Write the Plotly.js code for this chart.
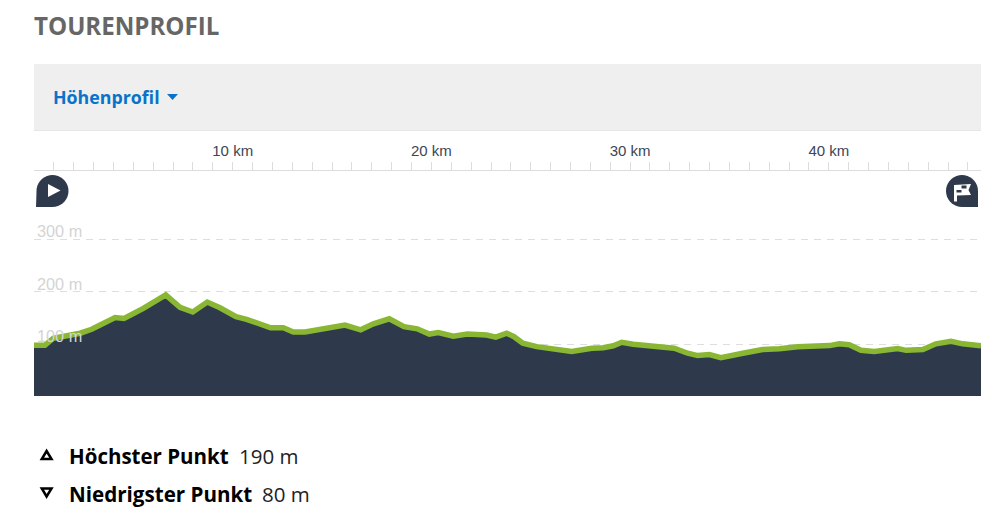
<!DOCTYPE html>
<html>
<head>
<meta charset="utf-8">
<script src="https://cdn.plot.ly/plotly-3.0.1.min.js"></script>
<style>html,body{margin:0;padding:0;background:#fff;overflow:hidden}#c{width:1006px;height:518px}</style>
</head>
<body>
<div id="c"></div>
<script>
const distanceKm = [0,0.55,0.97,1.65,2.32,2.90,3.49,4.08,4.53,5.50,6.63,7.35,7.99,8.72,9.36,9.83,10.17,10.70,11.29,11.91,12.55,13.05,13.64,14.39,14.90,15.65,16.44,17.08,17.88,18.62,19.29,19.89,20.35,21.10,21.81,22.78,23.24,23.79,24.16,24.60,25.30,26.31,27.06,28.07,28.65,29.15,29.58,30.16,31.81,32.22,32.90,33.40,33.99,34.57,35.67,36.67,37.51,38.43,40.03,40.53,41.03,41.62,42.29,43.47,43.89,44.73,45.39,46.15,46.74,47.66];
const elevationM = [97.7,97.7,111,115,120.6,128,138.5,150.5,148.6,168,193.7,170,161,180,169,160.6,152,147,138.5,131,131,123,123,127,131,136,127,138.5,148,133,129,119,122,115,119,117,113,120.6,114,101.5,95,90,86,92,93,96.6,103.4,99.6,94,92,82.5,78,80,74,82.5,89.5,91,95,97,100.4,98.5,88,86,91.4,88,89.5,100.4,105,100.4,96.6];
const kmTicks = [1,2,3,4,5,6,7,8,9,10,11,12,13,14,15,16,17,18,19,20,21,22,23,24,25,26,27,28,29,30,31,32,33,34,35,36,37,38,39,40,41,42,43,44,45,46,47];
const heightTicks = [100,200,300];
const heading = "TOURENPROFIL";
const dropdownLabel = "Höhenprofil";
const highLabel = "Höchster Punkt", highValue = "190 m";
const lowLabel = "Niedrigster Punkt", lowValue = "80 m";

const W = 1006, H = 518, L = 34, R = 25, T = 171, B = 122;
const px = v => (v - L) / (W - L - R);
const py = v => (H - B - v) / (H - T - B);
const shapePath = (d, fill, line) => ({type:'path', xref:'paper', yref:'paper', path:d, fillcolor:fill, line:line||{width:0}, layer:'above'});
const P = (x,y) => px(x) + ',' + py(y);
const poly = pts => 'M' + pts.map(p => P(p[0],p[1])).join(' L') + ' Z';
function circlePts(cx, cy, r, from, to){
  const pts = [];
  for(let a = from; a <= to; a += 10){ const t = a*Math.PI/180; pts.push([cx + r*Math.cos(t), cy + r*Math.sin(t)]); }
  return pts;
}
const startPin = poly([[36,207]].concat([[36.5,191]], circlePts(52.5,191,16,180,450), [[52.5,207]]));
const endPin = poly([[978,207],[962,207]].concat(circlePts(962,191,16,90,360), [[978,191]]));
const text = (t, x, y, size, color, bold, family) => ({
  text: bold ? '<b>' + t + '</b>' : t, xref:'paper', yref:'paper', x:px(x), y:py(y),
  xanchor:'left', yanchor:'middle', showarrow:false,
  font:{family: family || '"Open Sans", "Noto Sans", sans-serif', size, color}
});

const shapes = [
  {type:'rect', xref:'paper', yref:'paper', x0:px(34), x1:px(981), y0:py(64), y1:py(130), fillcolor:'#efefef', line:{width:0}, layer:'below'},
  {type:'line', xref:'paper', yref:'paper', x0:px(34), x1:px(981), y0:py(130.5), y1:py(130.5), line:{color:'#e6e6e6', width:1}, layer:'below'},
  shapePath(poly([[167,94],[178,94],[172.5,100]]), '#0a72c9'),
  shapePath(startPin, '#2e3a4c'),
  shapePath(poly([[48,184],[60.5,190.5],[48,197]]), '#ffffff'),
  shapePath(endPin, '#2e3a4c'),
  shapePath(poly([[954,185],[971,184],[968.5,190],[971,195],[957,195.5],[957,201.5],[954,201.5]]), '#ffffff'),
  shapePath(poly([[961.5,185.5],[966.5,185.5],[966.5,188.5],[961.5,188.5]]), '#2e3a4c'),
  shapePath(poly([[956.5,190],[961.5,190],[961.5,192.5],[956.5,192.5]]), '#2e3a4c'),
  shapePath(poly([[41.8,459],[51.5,459],[46.6,451]]), 'rgba(0,0,0,0)', {color:'#000', width:2.5}),
  shapePath(poly([[41.8,488.5],[51.5,488.5],[46.6,496.5]]), 'rgba(0,0,0,0)', {color:'#000', width:2.5})
];

const annotations = [
  text(dropdownLabel, 51, 97, 17.8, '#0a72c9', true),
  text(highLabel, 67, 456, 20.5, '#000', true),
  text(highValue, 237, 456, 20.5, '#222', false),
  text(lowLabel, 67, 494, 20.6, '#000', true),
  text(lowValue, 260, 494, 20.5, '#222', false)
].concat(heightTicks.map(v => ({
  text: v + ' m', xref:'x', yref:'y', x:0, y:v, xanchor:'left', yanchor:'bottom', xshift:1, yshift:-3,
  showarrow:false, font:{family:'"Liberation Sans", Arial, sans-serif', size:16.3, color:'#d4d4d4'}
})));

Plotly.newPlot('c', [{
  x: distanceKm, y: elevationM, type:'scatter', mode:'lines', fill:'tozeroy',
  fillcolor:'#2e3a4c', line:{color:'#8ab733', width:5.5, shape:'linear'}, hoverinfo:'skip'
}], {
  width:W, height:H, paper_bgcolor:'#fff', plot_bgcolor:'#fff', showlegend:false,
  margin:{l:L, r:R, t:T, b:B, pad:0},
  title:{text:'<b>' + heading + '</b>', x:L/W, xanchor:'left', y:1-27/H, yanchor:'middle',
    font:{family:'"Open Sans", "Noto Sans", sans-serif', size:24.1, color:'#666666'}},
  xaxis:{range:[0,47.66], side:'top', showgrid:false, zeroline:false, showline:true, linecolor:'#dddddd', linewidth:1,
    tickmode:'array', tickvals:kmTicks, ticktext:kmTicks.map(k => k % 10 === 0 ? k + ' km' : ''),
    ticks:'outside', ticklen:8, tickwidth:1, tickcolor:'#dddddd', tickangle:0,
    tickfont:{family:'"Liberation Sans", Arial, sans-serif', size:15, color:'#3c4656'}, fixedrange:true},
  yaxis:{range:[1,225/0.525+1], showgrid:true, gridcolor:'#dedede', gridwidth:1, griddash:'7px,6px', zeroline:false, showline:false,
    tickmode:'array', tickvals:heightTicks, showticklabels:false, ticks:'', fixedrange:true},
  shapes, annotations
}, {displayModeBar:false, staticPlot:true});
</script>
</body>
</html>
